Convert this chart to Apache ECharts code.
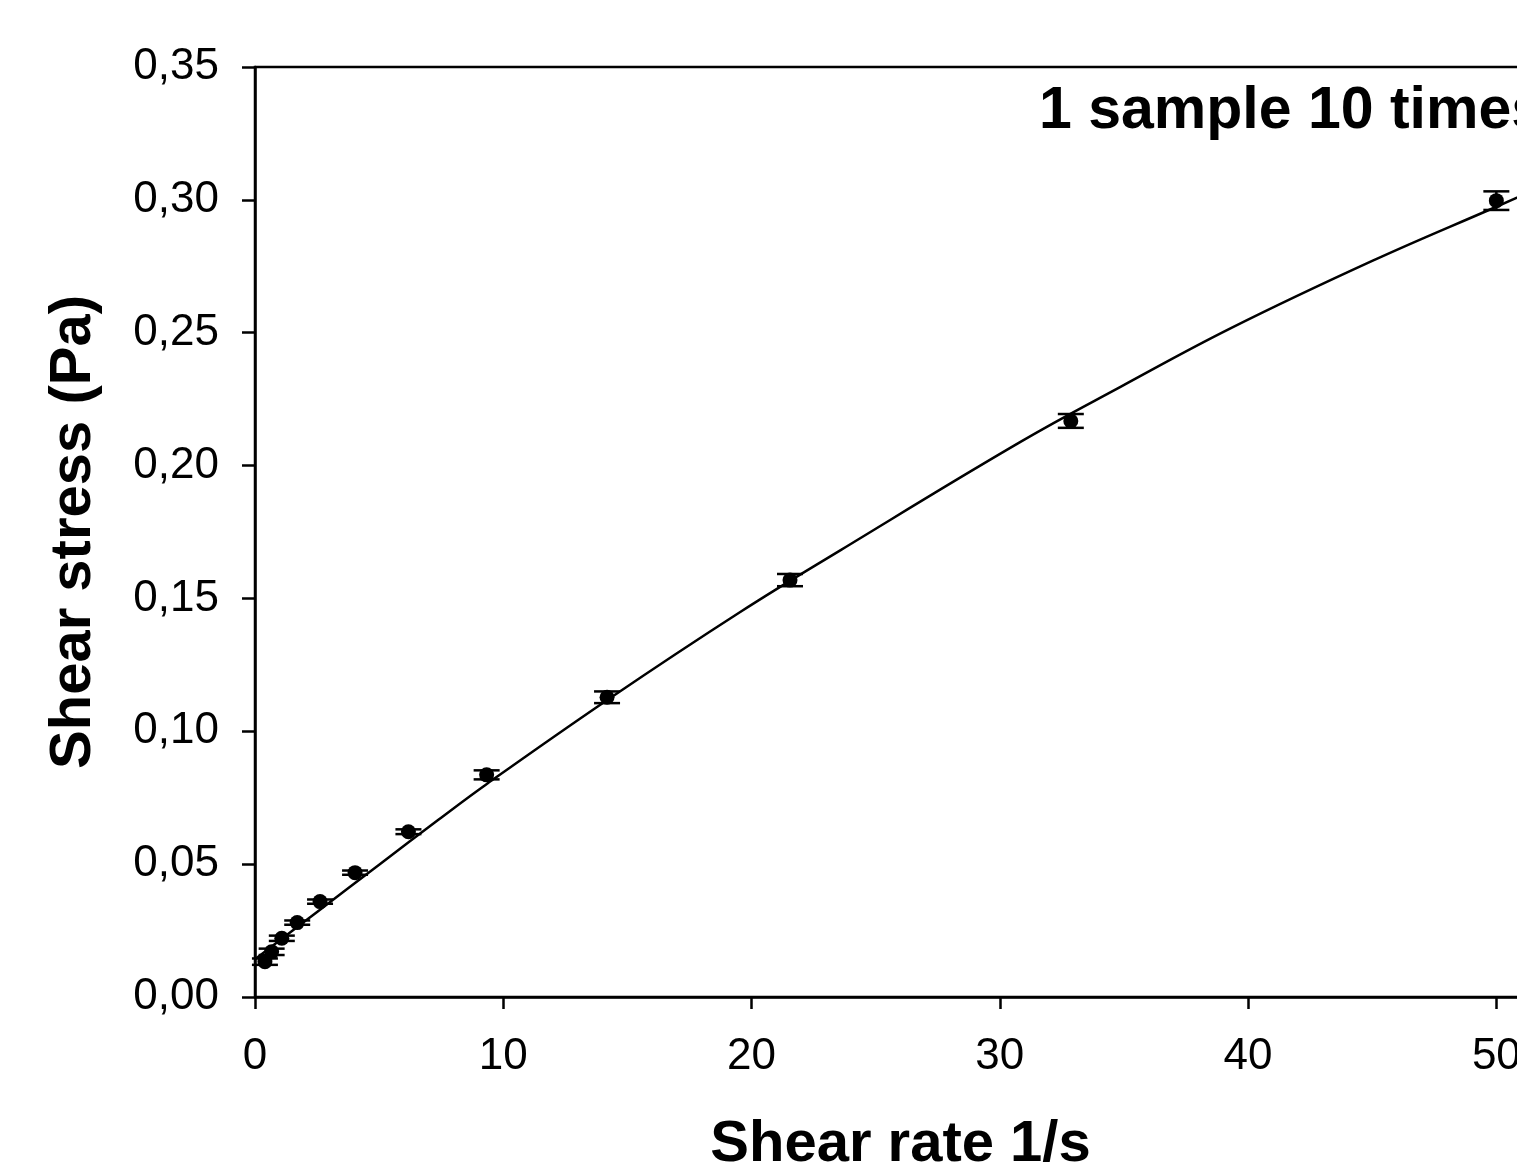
<!DOCTYPE html>
<html>
<head>
<meta charset="utf-8">
<script src="https://cdn.jsdelivr.net/npm/echarts@6/dist/echarts.min.js"></script>
<style>
html,body{margin:0;padding:0;background:#fff;}
#chart{width:1517px;height:1176px;}
</style>
</head>
<body>
<div id="chart"></div>
<script>
// Measured points (shear rate 1/s, shear stress Pa) with error (SD)
const shearRate = [0.40, 0.67, 1.08, 1.70, 2.62, 4.03, 6.18, 9.33, 14.18, 21.55, 32.86, 50.0];
const shearStress = [0.0133, 0.0170, 0.0221, 0.0280, 0.0359, 0.0468, 0.0622, 0.0836, 0.1128, 0.1569, 0.2168, 0.2997];
const stressErr = [0.0012, 0.0012, 0.0010, 0.0008, 0.0008, 0.0008, 0.0009, 0.0017, 0.0022, 0.0023, 0.0026, 0.0035];

// Fitted curve
const fitRate = [0, 2.5, 5, 7.4, 9.31, 14.19, 19.56, 23.59, 30.85, 34.88, 39.31, 45, 50, 52];
const fitStress = [0.0142, 0.0320, 0.0498, 0.0668, 0.0800, 0.1118, 0.1450, 0.1682, 0.2090, 0.2297, 0.2517, 0.2770, 0.2974, 0.3056];

const yTickLabels = ['0,00', '0,05', '0,10', '0,15', '0,20', '0,25', '0,30', '0,35'];
const xTickLabels = ['0', '10', '20', '30', '40', '50'];

const FONT = "'Liberation Sans', Arial, sans-serif";

const pts = shearRate.map((x, i) => [x, shearStress[i]]);
const errData = shearRate.map((x, i) => [x, shearStress[i] - stressErr[i], shearStress[i] + stressErr[i]]);
const fitData = fitRate.map((x, i) => [x, fitStress[i]]);

const chart = echarts.init(document.getElementById('chart'), null, {renderer: 'canvas'});
chart.setOption({
  backgroundColor: '#fff',
  animation: false,
  grid: {left: 255, top: 67, bottom: 179, width: 1291, outerBoundsMode: 'none', containLabel: false,
    show: true, borderColor: '#000', borderWidth: 2.5, backgroundColor: 'transparent'},
  xAxis: {
    type: 'value', min: 0, max: 52, interval: 10,
    name: 'Shear rate 1/s', nameLocation: 'middle', nameGap: 119,
    nameTextStyle: {fontFamily: FONT, fontWeight: 'bold', fontSize: 58, color: '#000'},
    axisLine: {show: true, lineStyle: {color: '#000', width: 2.5}},
    axisTick: {show: true, inside: false, length: 12, lineStyle: {color: '#000', width: 2.5}},
    axisLabel: {margin: 38, fontFamily: FONT, fontSize: 44, color: '#000',
      formatter: v => { const i = Math.round(v / 10); return (Math.abs(v - i * 10) < 1e-6 && xTickLabels[i] !== undefined) ? xTickLabels[i] : ''; }},
    splitLine: {show: false}
  },
  yAxis: {
    type: 'value', min: 0, max: 0.35, interval: 0.05,
    name: 'Shear stress (Pa)', nameLocation: 'middle', nameGap: 152,
    nameTextStyle: {fontFamily: FONT, fontWeight: 'bold', fontSize: 58, color: '#000'},
    axisLine: {show: true, lineStyle: {color: '#000', width: 2.5}},
    axisTick: {show: true, inside: false, length: 13, lineStyle: {color: '#000', width: 2.5}},
    axisLabel: {margin: 36, fontFamily: FONT, fontSize: 44, color: '#000',
      formatter: v => yTickLabels[Math.round(v / 0.05)] || ''},
    splitLine: {show: false}
  },
  graphic: [{
    type: 'text', left: 1039, top: 82,
    style: {text: '1 sample 10 times', font: "bold 59px 'Liberation Sans', Arial, sans-serif", fill: '#000'}
  }],
  series: [
    {
      type: 'line', data: fitData, smooth: 0.4, showSymbol: false, symbol: 'none',
      lineStyle: {color: '#000', width: 2.5}, z: 2, silent: true
    },
    {
      type: 'custom', data: errData, z: 3,
      renderItem: function (params, api) {
        const x = api.value(0);
        const lo = api.coord([x, api.value(1)]);
        const hi = api.coord([x, api.value(2)]);
        const hw = 13;
        const st = {stroke: '#000', lineWidth: 2.5};
        return {type: 'group', children: [
          {type: 'line', shape: {x1: lo[0], y1: lo[1], x2: hi[0], y2: hi[1]}, style: st},
          {type: 'line', shape: {x1: lo[0] - hw, y1: lo[1], x2: lo[0] + hw, y2: lo[1]}, style: st},
          {type: 'line', shape: {x1: hi[0] - hw, y1: hi[1], x2: hi[0] + hw, y2: hi[1]}, style: st}
        ]};
      }
    },
    {
      type: 'scatter', data: pts, symbol: 'circle', symbolSize: 15,
      itemStyle: {color: '#000', opacity: 1}, z: 4
    }
  ]
});
</script>
</body>
</html>
